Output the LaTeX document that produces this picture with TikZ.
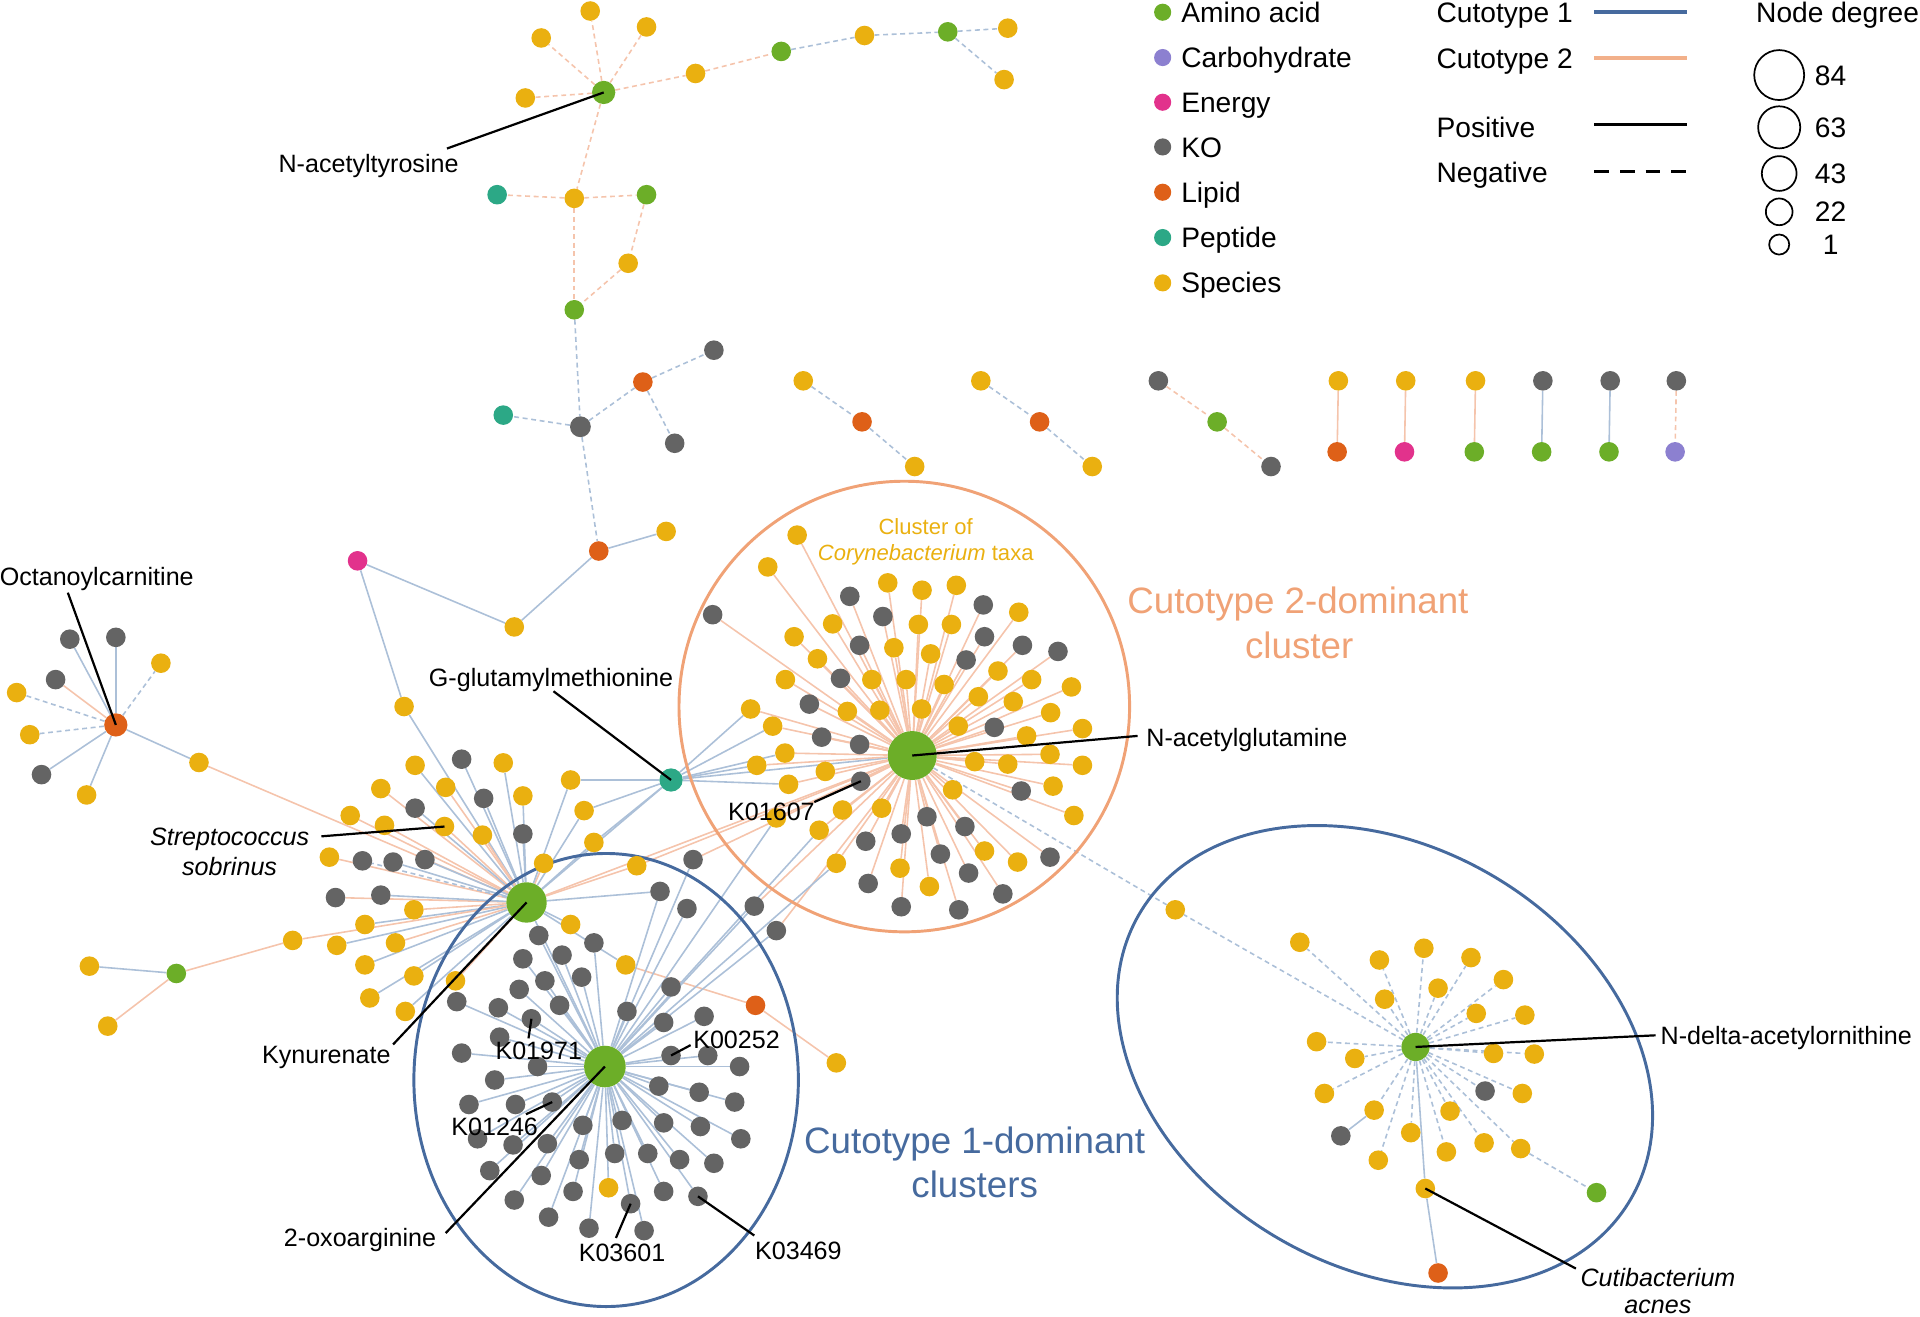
\documentclass[tikz,border=0pt]{standalone}
\usepackage{fontspec}
\setmainfont{Liberation Sans}
\pgfdeclarelayer{bg}
\pgfdeclarelayer{mid}
\pgfsetlayers{bg,mid,main}
\definecolor{cAA}{RGB}{108,174,40}
\definecolor{cCA}{RGB}{140,128,208}
\definecolor{cEN}{RGB}{226,50,140}
\definecolor{cKO}{RGB}{100,100,100}
\definecolor{cLP}{RGB}{222,96,24}
\definecolor{cPE}{RGB}{44,168,134}
\definecolor{cSP}{RGB}{234,176,16}
\definecolor{cB1}{RGB}{70,106,158}
\definecolor{cB2}{RGB}{240,162,118}
\definecolor{cEB}{RGB}{172,192,216}
\definecolor{cES}{RGB}{245,196,172}
\tikzset{
 dot/.style={circle,inner sep=0pt,minimum size=16pt,draw=none},
 tAA/.style={dot,fill=cAA}, tCA/.style={dot,fill=cCA}, tEN/.style={dot,fill=cEN},
 tKO/.style={dot,fill=cKO}, tLP/.style={dot,fill=cLP}, tPE/.style={dot,fill=cPE},
 tSP/.style={dot,fill=cSP},
 eb/.style={draw=cEB,line width=1.3pt},
 es/.style={draw=cES,line width=1.3pt},
 ebd/.style={eb,dash pattern=on 4pt off 3pt},
 esd/.style={es,dash pattern=on 4pt off 3pt},
 lab/.style={font=\fontsize{20.5}{24}\selectfont,inner sep=0pt,text height=14.7pt,text depth=0pt},
 leg/.style={font=\fontsize{23}{27}\selectfont,inner sep=0pt,text height=16.5pt,text depth=0pt,anchor=west},
 bigl/.style={font=\fontsize{30}{36}\selectfont,inner sep=0pt,text height=21.5pt,text depth=0pt},
 lead/.style={draw=black,line width=1.8pt},
 ell/.style={line width=2.4pt},
}
\begin{document}
\begin{tikzpicture}[x=1pt,y=-1pt]
\useasboundingbox (0,0) rectangle (1568,1075.55);
% hubs
\node[tAA,minimum size=19pt] (nat) at (493,75.5) {};
\node[tAA,minimum size=40pt] (nag) at (745,617) {};
\node[tAA,minimum size=33pt] (kyn) at (430,737) {};
\node[tAA,minimum size=34pt] (oxo) at (494,871) {};
\node[tAA,minimum size=23pt] (nda) at (1156,855) {};
\node[tLP,minimum size=19pt] (oct) at (94.6,592) {};
\node[tPE,minimum size=19pt] (ggm) at (548,637) {};
\node[tKO,minimum size=17pt] (mg) at (474,348.5) {};
% cluster outlines
\begin{pgfonlayer}{mid}
\draw[cB2,ell] (738.5,577) circle [radius=184pt];
\draw[cB1,ell] (495,882) ellipse [x radius=157pt, y radius=185pt];
\draw[cB1,ell,rotate around={-30:(1131,863)}] (1131,863) ellipse [x radius=232pt, y radius=172pt];
\end{pgfonlayer}
% top-left component
\node[tSP] (t1) at (482,9) {};
\node[tSP] (t2) at (528,22) {};
\node[tSP] (t3) at (442,31) {};
\node[tSP] (t4) at (429,80) {};
\node[tSP] (t5) at (568,60) {};
\node[tAA] (t6) at (638,42) {};
\node[tSP] (t7) at (706,29) {};
\node[tAA] (t8) at (774,26) {};
\node[tSP] (t9) at (823,23) {};
\node[tSP] (t10) at (820,65) {};
\node[tSP] (t11) at (469,162) {};
\node[tPE] (t12) at (406,159) {};
\node[tAA] (t13) at (528,159) {};
\node[tSP] (t14) at (513,215) {};
\node[tAA] (t15) at (469,253) {};
\node[tPE] (m1) at (411,339) {};
\node[tLP] (m2) at (525,312) {};
\node[tKO] (m3) at (583,286) {};
\node[tKO] (m4) at (551,362) {};
\node[tLP] (m5) at (489,450) {};
\node[tSP] (m6) at (544,434) {};
\node[tSP] (m7) at (420,512) {};
\node[tEN] (m8) at (292,458) {};
\node[tSP] (m9) at (330,577) {};
\begin{pgfonlayer}{bg}
\draw[esd] (nat)--(t1); \draw[esd] (nat)--(t2); \draw[esd] (nat)--(t3);
\draw[esd] (nat)--(t4); \draw[esd] (nat)--(t5); \draw[esd] (t5)--(t6);
\draw[ebd] (t6)--(t7); \draw[ebd] (t7)--(t8); \draw[ebd] (t8)--(t9); \draw[ebd] (t8)--(t10);
\draw[esd] (nat)--(t11); \draw[esd] (t11)--(t12); \draw[esd] (t11)--(t13);
\draw[esd] (t13)--(t14); \draw[esd] (t14)--(t15); \draw[esd] (t11)--(t15);
\draw[ebd] (t15)--(mg);
\draw[ebd] (mg)--(m1); \draw[ebd] (mg)--(m2); \draw[ebd] (m2)--(m3); \draw[ebd] (m2)--(m4);
\draw[ebd] (mg)--(m5); \draw[eb] (m5)--(m6); \draw[eb] (m5)--(m7); \draw[eb] (m7)--(m8);
\draw[eb] (m8)--(m9); \draw[eb] (m9)--(kyn);
\end{pgfonlayer}
% small components
\node[tSP] (s1) at (656,311) {}; \node[tLP] (s2) at (704,344.5) {}; \node[tSP] (s3) at (747,381) {};
\node[tSP] (s4) at (801,311) {}; \node[tLP] (s5) at (849,344.5) {}; \node[tSP] (s6) at (892,381) {};
\node[tKO] (s7) at (946,311) {}; \node[tAA] (s8) at (994,344.5) {}; \node[tKO] (s9) at (1038,381) {};
\begin{pgfonlayer}{bg}
\draw[ebd] (s1)--(s2); \draw[ebd] (s2)--(s3); \draw[ebd] (s4)--(s5); \draw[ebd] (s5)--(s6);
\draw[esd] (s7)--(s8); \draw[esd] (s8)--(s9);
\end{pgfonlayer}
\foreach \xx/\ta/\tb/\st [count=\i] in {1093/tSP/tLP/es,1148/tSP/tEN/es,1205/tSP/tAA/es,1260/tKO/tAA/eb,1315/tKO/tAA/eb,1369/tKO/tCA/esd}{
 \node[\ta] (pa\i) at (\xx,311) {};
 \node[\tb] (pb\i) at (\xx-1,369) {};
 \begin{pgfonlayer}{bg}\draw[\st] (pa\i)--(pb\i);\end{pgfonlayer}}
% octanoylcarnitine
\foreach \cl/\xx/\yy/\st [count=\i] in {tKO/57/522/eb,tKO/94.6/520.5/eb,tKO/45.4/555/es,tSP/131.4/541.6/ebd,tSP/13.6/565.6/ebd,tSP/24.3/600/ebd,tKO/33.9/632.6/eb,tSP/70.7/649.2/eb}{
 \node[\cl] (o\i) at (\xx,\yy) {};
 \begin{pgfonlayer}{bg}\draw[\st] (oct)--(o\i);\end{pgfonlayer}}
\node[tSP] (o9) at (162.5,622.7) {};
\begin{pgfonlayer}{bg}\draw[eb] (oct)--(o9); \draw[es] (o9)--(kyn);\end{pgfonlayer}
% kynurenate neighbourhood
\foreach \cl/\xx/\yy/\st [count=\i] in {tSP/339/625/eb,tKO/377/620/eb,tSP/411/623/eb,tSP/311/644/es,tSP/364/643/es,tKO/395/652/eb,tSP/427/650/eb,tSP/286/666/es,tKO/339/660/eb,tSP/314/674/es,tSP/394/682/es,tKO/427/681/eb,tSP/269/700/es,tKO/296/703/ebd,tKO/321/704/eb,tKO/347/702/eb,tSP/444/705/es,tKO/274/733/es,tKO/311/731/eb,tSP/338/743/es,tSP/298/755/eb,tSP/466/755/eb,tSP/275/772/eb,tSP/323/770/es,tSP/298/788/eb,tSP/338/797/eb,tSP/372/801/es,tSP/302/815/eb,tSP/331/826/eb}{
 \node[\cl] (k\i) at (\xx,\yy) {};
 \begin{pgfonlayer}{bg}\draw[\st] (kyn)--(k\i);\end{pgfonlayer}}
\node[tSP] (strep) at (363,675) {};
\node[tSP] (ky1) at (466,637) {};
\node[tSP] (ky2) at (477,662) {};
\node[tSP] (ky3) at (485,688) {};
\node[tSP] (ky4) at (520,707) {};
\node[tSP] (ky5) at (239,768) {};
\node[tSP] (ky6) at (511,788) {};
\node[tKO] (ky7) at (539,728) {};
\node[tAA] (l1) at (144,795) {};
\node[tSP] (l2) at (73,789) {};
\node[tSP] (l3) at (88,838) {};
\node[tLP] (l4) at (617,821) {};
\node[tSP] (l5) at (683,868) {};
\begin{pgfonlayer}{bg}
\draw[es] (kyn)--(strep);
\draw[eb] (kyn)--(ky1); \draw[eb] (ggm)--(ky1);
\draw[eb] (kyn)--(ky2); \draw[eb] (ggm)--(ky2);
\draw[eb] (kyn)--(ky3); \draw[eb] (ggm)--(ky3);
\draw[es] (kyn)--(ky4); \draw[es] (nag)--(ky4);
\draw[es] (kyn)--(ky5); \draw[es] (ky5)--(l1); \draw[eb] (l1)--(l2); \draw[es] (l1)--(l3);
\draw[eb] (kyn)--(ky6); \draw[es] (ky6)--(l4); \draw[es] (l4)--(l5);
\draw[eb] (kyn)--(ky7); \draw[eb] (oxo)--(ky7);
\draw[eb] (kyn)--(oxo); \draw[es] (kyn)--(nag); \draw[eb] (ggm)--(kyn); \draw[eb] (ggm)--(nag);
\end{pgfonlayer}
% 2-oxoarginine neighbourhood
\foreach \cl/\xx/\yy [count=\i] in {tKO/440/764,tKO/485/770,tKO/427/783,tKO/459/780,tKO/445/801,tKO/475/798,tKO/548/806,tKO/373/818,tKO/424/808,tKO/407/823,tKO/457/821,tKO/512/826,tKO/542/835,tKO/575/830,tKO/408/847,tKO/377/860,tKO/439/871,tKO/578/862,tKO/604/871,tKO/404/882,tKO/538/887,tKO/571/892,tKO/600/900,tKO/383/902,tKO/421/902,tKO/476/919,tKO/508/915,tKO/542/917,tKO/572/920,tKO/605/930,tKO/390/930,tKO/419/935,tKO/447/934,tKO/473/947,tKO/502/942,tKO/529/942,tKO/555/947,tKO/583/950,tKO/400/956,tKO/442/960,tKO/468/973,tSP/497/970,tKO/542/973,tKO/420/980,tKO/448/994,tKO/481/1003,tKO/526/1005,tKO/561/742}{
 \node[\cl] (x\i) at (\xx,\yy) {};
 \begin{pgfonlayer}{bg}\draw[eb] (oxo)--(x\i);\end{pgfonlayer}}
\node[tKO] (k1971) at (434,832) {};
\node[tKO] (k0252) at (548,862) {};
\node[tKO] (k1246) at (451,900) {};
\node[tKO] (k3601) at (515,983) {};
\node[tKO] (k3469) at (570,977) {};
\node[tKO] (ox1) at (566,702) {};
\node[tKO] (ox2) at (616,740) {};
\node[tKO] (ox3) at (634,760) {};
\begin{pgfonlayer}{bg}
\draw[eb] (oxo)--(k1971); \draw[eb] (oxo)--(k0252); \draw[eb] (oxo)--(k1246);
\draw[eb] (oxo)--(k3601); \draw[eb] (oxo)--(k3469);
\draw[eb] (oxo)--(ox1); \draw[es] (nag)--(ox1);
\draw[eb] (oxo)--(ox2); \draw[es] (nag)--(ox2);
\draw[eb] (oxo)--(ox3); \draw[es] (nag)--(ox3);
\end{pgfonlayer}
% N-acetylglutamine neighbourhood
\foreach \cl/\xx/\yy [count=\i] in {tSP/651/437,tSP/627/463,tKO/582/502,tSP/725/476,tSP/753/482,tSP/781/478,tKO/694/487,tKO/803/494,tSP/832/500,tSP/680/509.5,tKO/721/503.5,tSP/750/510,tSP/777/510,tSP/648.5/520,tKO/702/527,tSP/730/529,tSP/760/534,tKO/804/520,tKO/835/527,tKO/864/532,tSP/667.6/538,tKO/789/539,tSP/815/548,tSP/842.5/555,tSP/875/561,tSP/641.4/555,tKO/686.4/554,tSP/712/555,tSP/740/555,tSP/771/559,tSP/799/569,tSP/827.5/573,tSP/858/582,tSP/884/595,tKO/661/575,tSP/692/581,tSP/718.5/580,tSP/752.6/579,tSP/782.6/593,tKO/812/594,tSP/838.4/601,tSP/884/625,tKO/671/602,tKO/702/608,tSP/857.5/616,tSP/674/630,tSP/796/622,tSP/823/624,tSP/778/645,tKO/834/646,tSP/860/642,tSP/877/666,tSP/688/661.5,tSP/720/660,tKO/757/667,tKO/788/675,tKO/736/681,tKO/707/687,tKO/768/697.5,tSP/804/695,tSP/831/704,tKO/857.5/700,tSP/735/709,tKO/791/713,tKO/709/721.5,tSP/759/724,tKO/819/730,tKO/736/740.5,tKO/783/743}{
 \node[\cl] (g\i) at (\xx,\yy) {};
 \begin{pgfonlayer}{bg}\draw[es] (nag)--(g\i);\end{pgfonlayer}}
\foreach \xx/\yy [count=\i] in {613/579,631/593,641/615,618/625,644/640.5}{
 \node[tSP] (gg\i) at (\xx,\yy) {};
 \begin{pgfonlayer}{bg}\draw[es] (nag)--(gg\i); \draw[eb] (ggm)--(gg\i);\end{pgfonlayer}}
\foreach \xx/\yy [count=\i] in {634/668,669/678,683/705}{
 \node[tSP] (go\i) at (\xx,\yy) {};
 \begin{pgfonlayer}{bg}\draw[es] (nag)--(go\i); \draw[eb] (oxo)--(go\i);\end{pgfonlayer}}
\node[tKO] (k1607) at (703,638) {};
\begin{pgfonlayer}{bg}\draw[es] (nag)--(k1607);\end{pgfonlayer}
% N-delta-acetylornithine neighbourhood
\foreach \cl/\xx/\yy [count=\i] in {tSP/1061.5/769.5,tSP/1162.8/774.4,tSP/1126.5/784,tSP/1201.3/782,tSP/1227.8/800,tSP/1174.4/807,tSP/1130.8/816,tSP/1205.6/827.6,tSP/1245.3/829,tSP/1075.2/850.7,tSP/1106.4/864.4,tSP/1219.7/860.3,tSP/1253/860.8,tKO/1212.8/891,tSP/1243.2/893,tSP/1081.6/893,tSP/1184.2/907.4,tSP/1152.1/925,tSP/1212/933.3,tSP/1181.2/940.7,tSP/1125.6/947.5}{
 \node[\cl] (r\i) at (\xx,\yy) {};
 \begin{pgfonlayer}{bg}\draw[ebd] (nda)--(r\i);\end{pgfonlayer}}
\node[tSP] (re) at (959.8,743) {};
\node[tSP] (rq) at (1122.2,906.6) {};
\node[tKO] (rg) at (1095,927.6) {};
\node[tSP] (rw) at (1241.9,938) {};
\node[tAA] (rG) at (1303.8,974) {};
\node[tSP] (cuti) at (1164,970.6) {};
\node[tLP] (rl) at (1174.4,1039.6) {};
\begin{pgfonlayer}{bg}
\draw[ebd] (nda)--(re); \draw[ebd] (nag)--(re);
\draw[ebd] (nda)--(rq); \draw[eb] (rq)--(rg);
\draw[ebd] (nda)--(rw); \draw[ebd] (rw)--(rG);
\draw[eb] (nda)--(cuti); \draw[eb] (cuti)--(rl);
\end{pgfonlayer}
% labels and leaders
\node[lab] (lNAT) at (301,133.5) {N-acetyltyrosine};
\coordinate (cNAT) at (365,121.3); \draw[lead] (cNAT)--(nat.center);
\node[lab] (lOCT) at (79,471) {Octanoylcarnitine};
\coordinate (cOCT) at (55.4,484); \draw[lead] (cOCT)--(oct.center);
\node[lab] (lGGM) at (450,553.5) {G-glutamylmethionine};
\coordinate (cGGM) at (452,564.5); \draw[lead] (cGGM)--(ggm.center);
\node[lab,font=\fontsize{20.5}{24}\selectfont\itshape] (lST1) at (187.5,683) {Streptococcus};
\node[lab,font=\fontsize{20.5}{24}\selectfont\itshape] (lST2) at (187.5,708) {sobrinus};
\coordinate (cST) at (262.5,683); \draw[lead] (cST)--(strep.center);
\node[lab] (lKYN) at (266.5,861) {Kynurenate};
\coordinate (cKYN) at (321,853); \draw[lead] (cKYN)--(kyn.center);
\node[lab] (lK1971) at (440,858) {K01971};
\coordinate (cK1971) at (431.6,848); \draw[lead] (cK1971)--(k1971.center);
\node[lab] (lK0252) at (601.5,849) {K00252};
\coordinate (cK0252) at (564,853.5); \draw[lead] (cK0252)--(k0252.center);
\node[lab] (lK1246) at (404,920) {K01246};
\coordinate (cK1246) at (429.5,910); \draw[lead] (cK1246)--(k1246.center);
\node[lab] (lOXO) at (294,1011) {2-oxoarginine};
\coordinate (cOXO) at (364,1007); \draw[lead] (cOXO)--(oxo.center);
\node[lab] (lK3601) at (508,1023) {K03601};
\coordinate (cK3601) at (503,1011); \draw[lead] (cK3601)--(k3601.center);
\node[lab] (lK3469) at (652,1021) {K03469};
\coordinate (cK3469) at (616,1009); \draw[lead] (cK3469)--(k3469.center);
\node[lab] (lK1607) at (630,663) {K01607};
\coordinate (cK1607) at (665,655); \draw[lead] (cK1607)--(k1607.center);
\node[lab,anchor=west] (lNAG) at (936,602) {N-acetylglutamine};
\coordinate (cNAG) at (929,601); \draw[lead] (nag.center)--(cNAG);
\node[lab,anchor=west] (lNDA) at (1356,846) {N-delta-acetylornithine};
\coordinate (cNDA) at (1352,845.5); \draw[lead] (nda.center)--(cNDA);
\node[lab,font=\fontsize{20.5}{24}\selectfont\itshape] (lCU1) at (1354,1043) {Cutibacterium};
\node[lab,font=\fontsize{20.5}{24}\selectfont\itshape] (lCU2) at (1354,1065) {acnes};
\coordinate (cCU) at (1287,1036); \draw[lead] (cuti.center)--(cCU);
% cluster captions
\node[inner sep=0pt,font=\fontsize{18}{22}\selectfont,text=cSP,text height=13pt,text depth=0pt] (cap1) at (756,430) {Cluster of};
\node[inner sep=0pt,font=\fontsize{18}{22}\selectfont,text=cSP,text height=13pt,text depth=0pt] (cap2) at (756,451) {\textit{Corynebacterium} taxa};
\node[bigl,text=cB2] (cap3) at (1060,490) {Cutotype 2-dominant};
\node[bigl,text=cB2] (cap4) at (1061,527) {cluster};
\node[bigl,text=cB1] (cap5) at (796,931) {Cutotype 1-dominant};
\node[bigl,text=cB1] (cap6) at (796,967) {clusters};
% legend
\foreach \cl/\txt/\yy [count=\i] in {tAA/Amino acid/10,tCA/Carbohydrate/47,tEN/Energy/83.5,tKO/KO/120,tLP/Lipid/157,tPE/Peptide/194,tSP/Species/231}{
 \node[\cl,minimum size=14pt] (ld\i) at (949.5,\yy) {};
 \node[leg] (lt\i) at (964.5,\yy) {\txt};}
\node[leg] (lc1) at (1173,10) {Cutotype 1};
\node[leg] (lc2) at (1173,47.5) {Cutotype 2};
\node[leg] (lc3) at (1173,104) {Positive};
\node[leg] (lc4) at (1173,141) {Negative};
\coordinate (la1) at (1302,10); \coordinate (lb1) at (1378,10);
\coordinate (la2) at (1302,47.5); \coordinate (lb2) at (1378,47.5);
\coordinate (la3) at (1302,102); \coordinate (lb3) at (1378,102);
\coordinate (la4) at (1302,140); \coordinate (lb4) at (1378,140);
\draw[cB1,line width=3pt] (la1)--(lb1);
\draw[cB2!85!white,line width=3pt] (la2)--(lb2);
\draw[black,line width=2.6pt] (la3)--(lb3);
\draw[black,line width=2.6pt,dash pattern=on 12pt off 9pt] (la4)--(lb4);
\node[leg] (lnd) at (1434,10) {Node degree};
\foreach \yy/\r/\txt [count=\i] in {61.3/20.4/84,104/17.2/63,141.7/14.2/43,173/10.9/22,199.7/8.2/1}{
 \node[circle,draw=black,line width=1.4pt,inner sep=0pt,minimum size=2*\r pt] (nd\i) at (1453,\yy) {};
 \node[leg,anchor=center] (nt\i) at (1495,\yy) {\txt};}
\end{tikzpicture}
\end{document}
